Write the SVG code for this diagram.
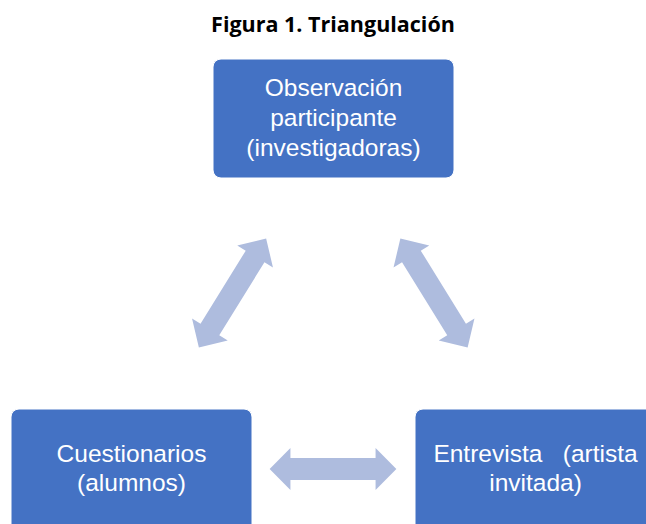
<svg xmlns="http://www.w3.org/2000/svg" xmlns:xlink="http://www.w3.org/1999/xlink" width="646" height="524" viewBox="0 0 646 524">
  <style>
    .box { fill: #4472C4; stroke: #ffffff; stroke-width: 1; }
    .lbl { font-family: "Liberation Sans", Arial, sans-serif; font-size: 24.5px; fill: #ffffff; text-anchor: middle; white-space: pre; }
    .title { font-family: "Open Sans", "Noto Sans", sans-serif; font-size: 21.5px; font-weight: bold; fill: #000000; text-anchor: middle; }
    .arr { fill: #AEBCDE; }
  </style>
  <defs>
    <polygon id="dblarrow" points="-64,0 -43,-21 -43,-11 43,-11 43,-21 64,0 43,21 43,11 -43,11 -43,21"/>
  </defs>
  <rect width="646" height="524" fill="#ffffff"/>
  <text class="title" x="333" y="32">Figura 1. Triangulación</text>

  <g id="connectors" class="arr">
    <use xlink:href="#dblarrow" href="#dblarrow" transform="translate(232.5,293) rotate(121.7)"/>
    <use xlink:href="#dblarrow" href="#dblarrow" transform="translate(434,293) rotate(58.3)"/>
    <use xlink:href="#dblarrow" href="#dblarrow" transform="translate(333,469) scale(0.99,1)"/>
  </g>

  <g id="node-observacion">
    <rect class="box" x="213" y="59" width="241" height="119" rx="8"/>
    <text class="lbl" x="333.5" y="96">Observación</text>
    <text class="lbl" x="333.5" y="126">participante</text>
    <text class="lbl" x="333.5" y="155.5">(investigadoras)</text>
  </g>

  <g id="node-cuestionarios">
    <rect class="box" x="11" y="409" width="241" height="125" rx="8"/>
    <text class="lbl" x="131.5" y="461.5">Cuestionarios</text>
    <text class="lbl" x="131.5" y="490.5">(alumnos)</text>
  </g>

  <g id="node-entrevista">
    <rect class="box" x="415" y="409" width="241" height="125" rx="8"/>
    <text class="lbl" x="535.5" y="461.5">Entrevista   (artista</text>
    <text class="lbl" x="535.5" y="490.5">invitada)</text>
  </g>
</svg>
